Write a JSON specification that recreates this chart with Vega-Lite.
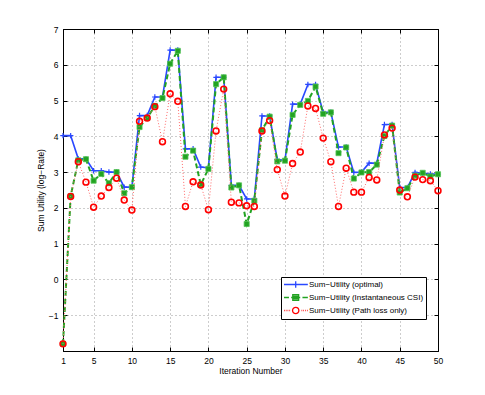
{
  "$schema": "https://vega.github.io/schema/vega-lite/v6.json",
  "width": 375,
  "height": 322,
  "autosize": {"type": "none"},
  "padding": {"left": 63, "top": 29, "right": 47, "bottom": 44},
  "background": "white",
  "datasets": {
    "d": [
      {"it": 1, "opt": 4.02, "inst": -1.8, "pl": -1.8},
      {"it": 2, "opt": 4.02, "inst": 2.33, "pl": 2.32},
      {"it": 3, "opt": 3.37, "inst": 3.33, "pl": 3.29},
      {"it": 4, "opt": 3.37, "inst": 3.36, "pl": 2.72},
      {"it": 5, "opt": 3.04, "inst": 2.76, "pl": 2.02},
      {"it": 6, "opt": 3.04, "inst": 2.95, "pl": 2.33},
      {"it": 7, "opt": 3.0, "inst": 2.69, "pl": 2.57},
      {"it": 8, "opt": 3.0, "inst": 3.0, "pl": 2.83},
      {"it": 9, "opt": 2.58, "inst": 2.41, "pl": 2.22},
      {"it": 10, "opt": 2.58, "inst": 2.58, "pl": 1.94},
      {"it": 11, "opt": 4.58, "inst": 4.26, "pl": 4.42},
      {"it": 12, "opt": 4.58, "inst": 4.51, "pl": 4.51},
      {"it": 13, "opt": 5.1, "inst": 4.85, "pl": 4.83},
      {"it": 14, "opt": 5.1, "inst": 5.07, "pl": 3.85},
      {"it": 15, "opt": 6.41, "inst": 6.03, "pl": 5.19},
      {"it": 16, "opt": 6.41, "inst": 6.39, "pl": 4.98},
      {"it": 17, "opt": 3.65, "inst": 3.43, "pl": 2.04},
      {"it": 18, "opt": 3.65, "inst": 3.6, "pl": 2.73},
      {"it": 19, "opt": 3.14, "inst": 2.65, "pl": 2.64},
      {"it": 20, "opt": 3.12, "inst": 3.09, "pl": 1.95},
      {"it": 21, "opt": 5.65, "inst": 5.46, "pl": 4.15},
      {"it": 22, "opt": 5.65, "inst": 5.65, "pl": 5.32},
      {"it": 23, "opt": 2.63, "inst": 2.57, "pl": 2.16},
      {"it": 24, "opt": 2.63, "inst": 2.63, "pl": 2.14},
      {"it": 25, "opt": 2.25, "inst": 1.55, "pl": 2.06},
      {"it": 26, "opt": 2.25, "inst": 2.2, "pl": 2.04},
      {"it": 27, "opt": 4.57, "inst": 4.17, "pl": 4.15},
      {"it": 28, "opt": 4.57, "inst": 4.55, "pl": 4.44},
      {"it": 29, "opt": 3.35, "inst": 3.3, "pl": 3.07},
      {"it": 30, "opt": 3.33, "inst": 3.32, "pl": 2.33},
      {"it": 31, "opt": 4.9, "inst": 4.6, "pl": 3.24},
      {"it": 32, "opt": 4.9, "inst": 4.88, "pl": 3.56},
      {"it": 33, "opt": 5.45, "inst": 4.99, "pl": 4.85},
      {"it": 34, "opt": 5.45, "inst": 5.39, "pl": 4.78},
      {"it": 35, "opt": 4.67, "inst": 4.63, "pl": 3.95},
      {"it": 36, "opt": 4.67, "inst": 4.67, "pl": 3.29},
      {"it": 37, "opt": 3.7, "inst": 3.53, "pl": 2.04},
      {"it": 38, "opt": 3.7, "inst": 3.69, "pl": 3.11},
      {"it": 39, "opt": 2.99, "inst": 2.82, "pl": 2.44},
      {"it": 40, "opt": 3.0, "inst": 2.99, "pl": 2.44},
      {"it": 41, "opt": 3.25, "inst": 3.0, "pl": 2.85},
      {"it": 42, "opt": 3.25, "inst": 3.21, "pl": 2.78},
      {"it": 43, "opt": 4.33, "inst": 4.01, "pl": 4.04},
      {"it": 44, "opt": 4.33, "inst": 4.3, "pl": 4.23},
      {"it": 45, "opt": 2.57, "inst": 2.43, "pl": 2.5},
      {"it": 46, "opt": 2.57, "inst": 2.55, "pl": 2.31},
      {"it": 47, "opt": 2.99, "inst": 2.9, "pl": 2.86},
      {"it": 48, "opt": 2.97, "inst": 2.98, "pl": 2.79},
      {"it": 49, "opt": 2.95, "inst": 2.88, "pl": 2.76},
      {"it": 50, "opt": 2.94, "inst": 2.94, "pl": 2.48}
    ],
    "leg": [
      {"series": "Sum−Utility (optimal)"},
      {"series": "Sum−Utility (Instantaneous CSI)"},
      {"series": "Sum−Utility (Path loss only)"}
    ]
  },
  "data": {"name": "d"},
  "layer": [
    {
      "mark": {"type": "line", "color": "#2a48ff", "strokeWidth": 1.6},
      "encoding": {
        "x": {
          "field": "it", "type": "quantitative",
          "scale": {"domain": [1, 50], "nice": false, "zero": false},
          "axis": {
            "title": "Iteration Number",
            "values": [1, 5, 10, 15, 20, 25, 30, 35, 40, 45, 50],
            "grid": true, "gridDash": [1, 3], "gridColor": "#9a9a9a",
            "tickSize": -4, "tickColor": "black", "domainColor": "black",
            "labelPadding": 9, "labelFlush": false,
            "labelFont": "Liberation Sans", "labelFontSize": 8.5, "labelColor": "black",
            "titleFont": "Liberation Sans", "titleFontSize": 8.5, "titleFontWeight": "normal",
            "titleColor": "black", "titlePadding": 2
          }
        },
        "y": {
          "field": "opt", "type": "quantitative",
          "scale": {"domain": [-2, 7], "nice": false, "zero": false},
          "axis": {
            "title": "Sum Utility (log−Rate)",
            "values": [-1, 0, 1, 2, 3, 4, 5, 6, 7],
            "grid": true, "gridDash": [1, 3], "gridColor": "#9a9a9a",
            "tickSize": -4, "tickColor": "black", "domainColor": "black",
            "labelPadding": 9, "labelFlush": false,
            "labelFont": "Liberation Sans", "labelFontSize": 8.5, "labelColor": "black",
            "titleFont": "Liberation Sans", "titleFontSize": 8.5, "titleFontWeight": "normal",
            "titleColor": "black", "titlePadding": 3
          }
        }
      }
    },
    {
      "mark": {"type": "point", "shape": "M-1,0H1M0,-1V1", "size": 30, "filled": false, "color": "#2a48ff", "strokeWidth": 1.2, "opacity": 1},
      "encoding": {
        "x": {"field": "it", "type": "quantitative",
          "axis": {"orient": "top", "labels": false, "title": null, "grid": false, "tickSize": -4, "tickColor": "black", "domainColor": "black", "values": [1, 5, 10, 15, 20, 25, 30, 35, 40, 45, 50]}},
        "y": {"field": "opt", "type": "quantitative",
          "axis": {"orient": "right", "labels": false, "title": null, "grid": false, "tickSize": -4, "tickColor": "black", "domainColor": "black", "values": [-1, 0, 1, 2, 3, 4, 5, 6, 7]}}
      }
    },
    {
      "mark": {"type": "line", "color": "#22a322", "strokeWidth": 2, "strokeDash": [5, 3]},
      "encoding": {
        "x": {"field": "it", "type": "quantitative", "axis": null},
        "y": {"field": "inst", "type": "quantitative", "axis": null}
      }
    },
    {
      "mark": {"type": "point", "shape": "square", "size": 26, "filled": true, "color": "#22a322", "stroke": "#55c455", "strokeWidth": 0.8, "opacity": 1},
      "encoding": {
        "x": {"field": "it", "type": "quantitative", "axis": null},
        "y": {"field": "inst", "type": "quantitative", "axis": null}
      }
    },
    {
      "mark": {"type": "line", "color": "#ff6a6a", "strokeWidth": 1, "strokeDash": [1, 2]},
      "encoding": {
        "x": {"field": "it", "type": "quantitative", "axis": null},
        "y": {"field": "pl", "type": "quantitative", "axis": null}
      }
    },
    {
      "mark": {"type": "point", "shape": "circle", "size": 34, "filled": false, "color": "#ff0000", "strokeWidth": 1.6, "opacity": 1},
      "encoding": {
        "x": {"field": "it", "type": "quantitative", "axis": null},
        "y": {"field": "pl", "type": "quantitative", "axis": null}
      }
    },
    {
      "data": {"name": "leg"},
      "transform": [{"filter": "datum.series == 'none'"}],
      "mark": {"type": "point", "filled": false, "size": 81, "strokeWidth": 1.3, "opacity": 1},
      "encoding": {
        "color": {
          "field": "series", "type": "nominal",
          "scale": {
            "domain": ["Sum−Utility (optimal)", "Sum−Utility (Instantaneous CSI)", "Sum−Utility (Path loss only)"],
            "range": ["#2a48ff", "#22a322", "#ff0000"]
          },
          "legend": {
            "title": null, "orient": "none", "legendX": 218, "legendY": 248,
            "strokeColor": "black", "fillColor": "white", "padding": 2,
            "symbolSize": 81, "symbolStrokeWidth": 1.3, "symbolOpacity": 1,
            "labelFont": "Liberation Sans", "labelFontSize": 8, "labelColor": "black",
            "labelOffset": 15, "rowPadding": 0
          }
        },
        "shape": {
          "field": "series", "type": "nominal",
          "scale": {
            "domain": ["Sum−Utility (optimal)", "Sum−Utility (Instantaneous CSI)", "Sum−Utility (Path loss only)"],
            "range": [
              "M-1,0H4.3M1.6,-0.7V0.7",
              "M-1,0H0.1M0.6,0H0.95M2.25,0H2.6M3.1,0H4.3M0.95,-0.65H2.25V0.65H0.95ZM0.95,-0.3H2.25M0.95,0H2.25M0.95,0.3H2.25",
              "M-1,0h0.15M-0.6,0h0.15M-0.2,0h0.15M0.2,0h0.15M2.9,0h0.15M3.3,0h0.15M3.7,0h0.15M4.1,0h0.15M2.3,0A0.7,0.7 0 1,1 0.9,0A0.7,0.7 0 1,1 2.3,0"
            ]
          },
          "legend": {
            "title": null, "orient": "none", "legendX": 218, "legendY": 248,
            "strokeColor": "black", "fillColor": "white", "padding": 2,
            "symbolSize": 81, "symbolStrokeWidth": 1.3, "symbolOpacity": 1,
            "labelFont": "Liberation Sans", "labelFontSize": 8, "labelColor": "black",
            "labelOffset": 15, "rowPadding": 0
          }
        }
      }
    }
  ],
  "resolve": {"axis": {"x": "independent", "y": "independent"}},
  "config": {
    "view": {"stroke": "black", "strokeWidth": 1},
    "axis": {"domainWidth": 1, "tickWidth": 1}
  }
}
